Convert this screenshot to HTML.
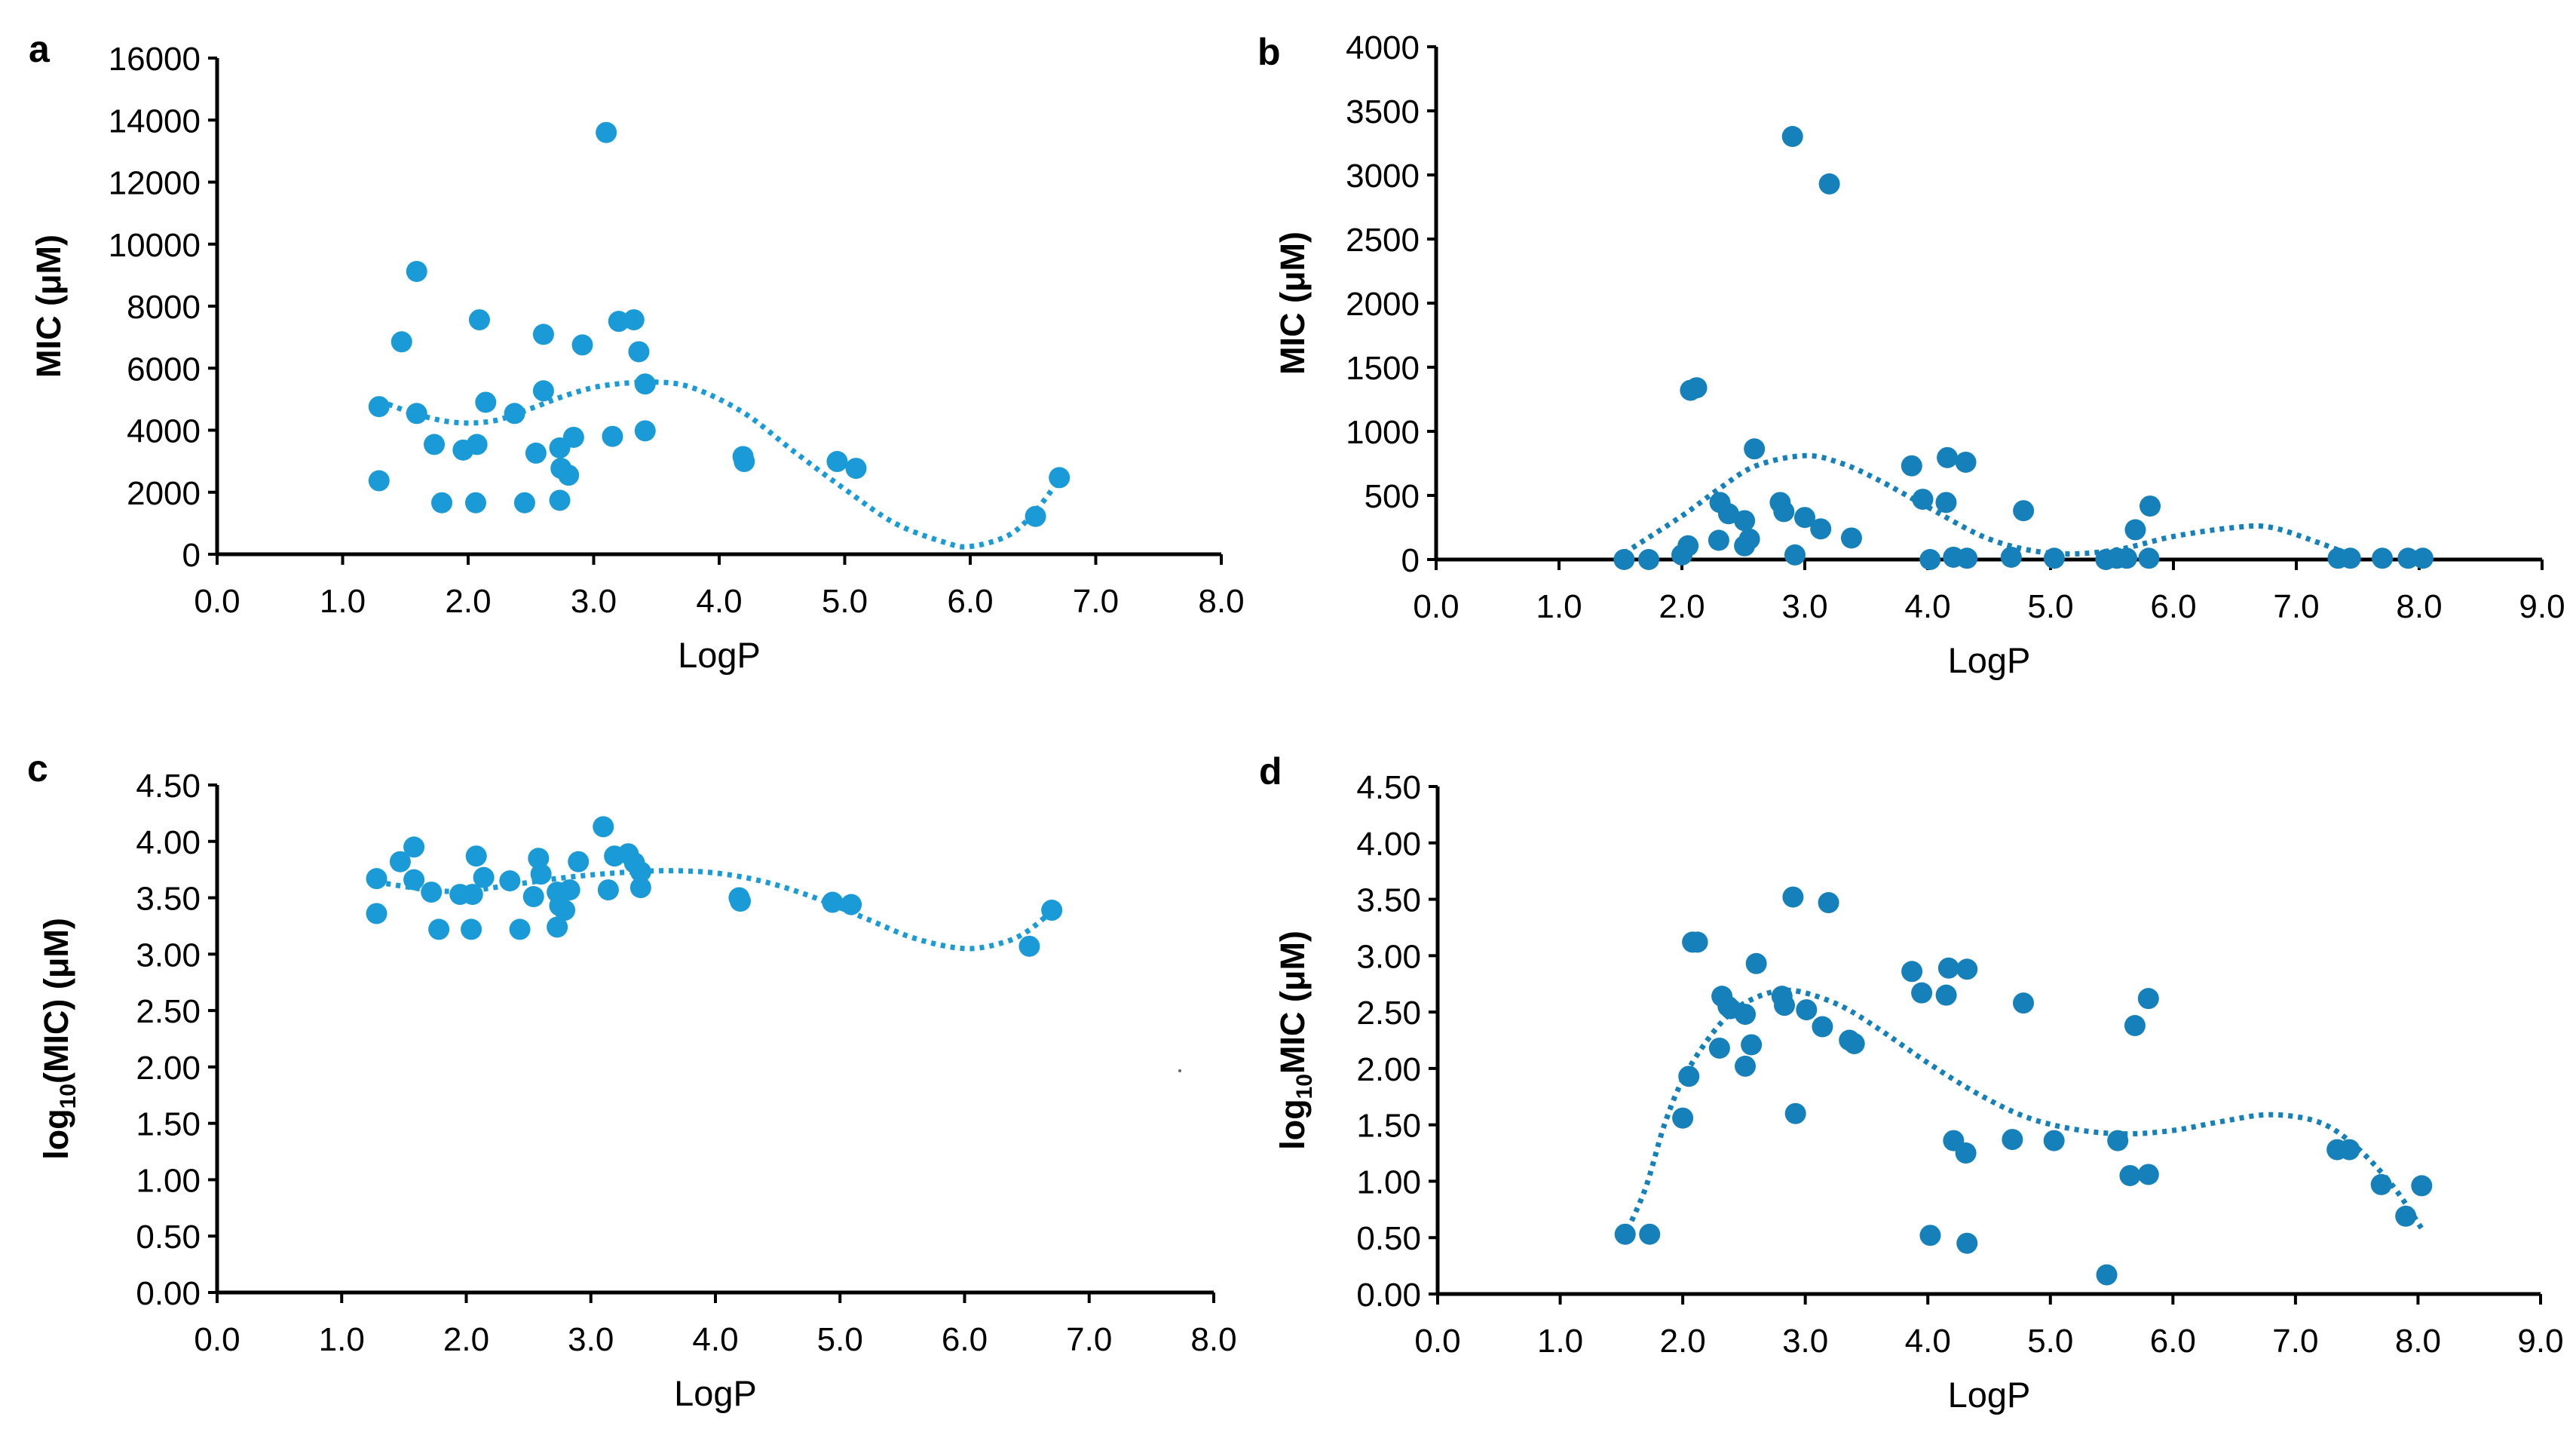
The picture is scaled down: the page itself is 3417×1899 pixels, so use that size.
<!DOCTYPE html>
<html><head><meta charset="utf-8">
<style>
html,body{margin:0;padding:0;background:#fff;}
svg{display:block;font-family:"Liberation Sans",Arial,sans-serif;}
</style></head>
<body>
<svg id="fig" width="3417" height="1899" viewBox="0 0 3417 1899" xmlns="http://www.w3.org/2000/svg"></svg>
<script>
// ---- Panel a data ----
const aX = [1.29,1.29,1.47,1.59,1.59,1.73,1.79,1.96,2.07,2.09,2.06,2.14,2.37,2.45,2.54,2.60,2.60,2.73,2.73,2.74,2.80,2.84,2.91,3.10,3.15,3.20,3.32,3.36,3.41,3.41,4.19,4.20,4.94,5.09,6.52,6.71];
const aY = [4760,2370,6850,9120,4540,3540,1660,3360,3540,7560,1660,4900,4540,1660,3260,7090,5270,3430,1740,2770,2550,3770,6750,13600,3800,7510,7560,6530,5490,3980,3150,2990,2990,2770,1220,2470];
const aTrendX = [1.29,1.6,1.9,2.2,2.5,2.8,3.1,3.5,3.8,4.2,4.6,5.0,5.4,5.8,6.0,6.3,6.5,6.71];
const aTrendY = [4950,4500,4250,4300,4700,5150,5450,5550,5350,4550,3300,2100,1000,380,250,600,1300,2400];
const aYTicks = [0,2000,4000,6000,8000,10000,12000,14000,16000];
const aXTicks = ["0.0","1.0","2.0","3.0","4.0","5.0","6.0","7.0","8.0"];
// ---- Panel b data ----
const bX = [1.53,1.73,2.0,2.05,2.07,2.12,2.30,2.31,2.38,2.51,2.51,2.55,2.59,2.80,2.83,2.90,2.92,3.00,3.13,3.20,3.38,3.87,3.96,4.02,4.15,4.16,4.21,4.31,4.32,4.68,4.78,5.03,5.45,5.54,5.62,5.69,5.81,5.80,7.34,7.44,7.70,7.91,8.03];
const bY = [0,0,36,107,1320,1340,150,445,357,303,107,160,863,445,374,3300,36,328,239,2930,168,731,470,0,445,795,18,759,10,18,381,10,0,10,10,232,417,10,10,10,10,10,10];
const bTrendX = [1.53,2.0,2.3,2.6,3.0,3.3,3.6,4.0,4.5,5.0,5.5,6.0,6.5,6.8,7.2,7.44];
const bTrendY = [50,340,550,730,810,750,620,410,160,50,70,180,250,250,125,35];
const bYTicks = [0,500,1000,1500,2000,2500,3000,3500,4000];
const bXTicks = ["0.0","1.0","2.0","3.0","4.0","5.0","6.0","7.0","8.0","9.0"];
// ---- Panel c data ----
const cX = [1.28,1.28,1.47,1.58,1.58,1.72,1.78,1.95,2.05,2.08,2.04,2.14,2.35,2.43,2.54,2.58,2.60,2.73,2.73,2.75,2.79,2.83,2.90,3.10,3.14,3.19,3.30,3.35,3.40,3.40,4.19,4.20,4.94,5.09,6.52,6.70];
const cY = [3.67,3.36,3.82,3.95,3.66,3.55,3.22,3.53,3.53,3.87,3.22,3.68,3.65,3.22,3.51,3.85,3.71,3.55,3.24,3.43,3.39,3.57,3.82,4.13,3.57,3.87,3.89,3.81,3.73,3.59,3.50,3.47,3.46,3.44,3.07,3.39];
const cTrendX = [1.28,1.7,2.0,2.4,2.8,3.2,3.6,4.0,4.4,4.8,5.2,5.6,6.0,6.3,6.5,6.7];
const cTrendY = [3.64,3.57,3.56,3.62,3.68,3.72,3.74,3.72,3.64,3.50,3.32,3.14,3.05,3.10,3.20,3.38];
const cYTicks = ["0.00","0.50","1.00","1.50","2.00","2.50","3.00","3.50","4.00","4.50"];
const cXTicks = ["0.0","1.0","2.0","3.0","4.0","5.0","6.0","7.0","8.0"];
// ---- Panel d data ----
const dX = [1.53,1.73,2.00,2.05,2.08,2.12,2.30,2.32,2.37,2.39,2.51,2.51,2.56,2.60,2.81,2.83,2.90,2.92,3.01,3.14,3.19,3.36,3.40,3.87,3.95,4.02,4.15,4.17,4.21,4.31,4.32,4.32,4.69,4.78,5.03,5.46,5.55,5.65,5.69,5.80,5.80,7.34,7.44,7.70,7.90,8.03];
const dY = [0.53,0.53,1.56,1.93,3.12,3.12,2.18,2.64,2.55,2.53,2.48,2.02,2.21,2.93,2.64,2.56,3.52,1.60,2.52,2.37,3.47,2.25,2.22,2.86,2.67,0.52,2.65,2.89,1.36,1.25,2.88,0.45,1.37,2.58,1.36,0.17,1.36,1.05,2.38,1.06,2.62,1.28,1.28,0.97,0.69,0.96];
const dTrendX = [1.55,1.7,1.85,2.0,2.2,2.4,2.6,2.8,3.0,3.3,3.6,4.0,4.4,4.8,5.2,5.6,6.0,6.4,6.8,7.2,7.5,7.8,8.03];
const dTrendY = [0.57,0.95,1.50,1.90,2.25,2.50,2.63,2.69,2.67,2.55,2.35,2.05,1.78,1.57,1.46,1.42,1.45,1.53,1.59,1.52,1.30,0.95,0.58];
const dYTicks = ["0.00","0.50","1.00","1.50","2.00","2.50","3.00","3.50","4.00","4.50"];
const dXTicks = ["0.0","1.0","2.0","3.0","4.0","5.0","6.0","7.0","8.0","9.0"];

const NS = "http://www.w3.org/2000/svg";
const svg = document.getElementById('fig');
function mk(tag, parent, attrs){ const e=document.createElementNS(NS,tag); for(const k in attrs) e.setAttribute(k,attrs[k]); parent.appendChild(e); return e; }

function panel(cfg){
  const g = mk('g', svg, {});
  
  
  const sx = v => cfg.x0 + (v - 0) / cfg.xmax * (cfg.x1 - cfg.x0);
  const sy = v => cfg.y0 - v / cfg.ymax * (cfg.y0 - cfg.y1);
  const lt = mk('text', g, {x:cfg.lx, y:cfg.ly, 'font-size':50, 'font-weight':'bold', fill:'#000'});
  lt.textContent = cfg.id;
  
  
  const ax = mk('g', g, {});
  
  
  mk('line', ax, {x1:cfg.x0, y1:cfg.y0, x2:cfg.x1, y2:cfg.y0, stroke:'#000', 'stroke-width':5});
  mk('line', ax, {x1:cfg.x0, y1:cfg.y0+2, x2:cfg.x0, y2:cfg.y1, stroke:'#000', 'stroke-width':5});
  cfg.yTicks.forEach(t => {
    const v = parseFloat(t), y = sy(v);
    mk('line', ax, {x1:cfg.x0-12, y1:y, x2:cfg.x0, y2:y, stroke:'#000', 'stroke-width':4});
    const tx = mk('text', ax, {x:cfg.x0-22, y:y+16, 'font-size':44, 'text-anchor':'end', fill:'#000'});
    tx.textContent = t;
    
    
  });
  cfg.xTicks.forEach(t => {
    const x = sx(parseFloat(t));
    mk('line', ax, {x1:x, y1:cfg.y0, x2:x, y2:cfg.y0+14, stroke:'#000', 'stroke-width':4});
    const tx = mk('text', ax, {x:x, y:cfg.y0+77, 'font-size':44, 'text-anchor':'middle', fill:'#000'});
    tx.textContent = t;
    
    
  });
  const xt = mk('text', g, {x:(cfg.x0+cfg.x1)/2, y:cfg.y0+150, 'font-size':47, 'text-anchor':'middle', fill:'#000'});
  xt.textContent = 'LogP';
  
  
  const yt = mk('text', g, {x:0, y:0, 'font-size':45, 'font-weight':'600', 'text-anchor':'middle', fill:'#000', transform:'translate('+cfg.ytx+','+((cfg.y0+cfg.y1)/2+cfg.yty)+') rotate(-90)'});
  yt.innerHTML = cfg.ytitle;
  
  
  const pts = cfg.tx.map((v,i)=>[sx(v), sy(cfg.ty[i])]);
  let d = 'M'+pts[0][0]+','+pts[0][1];
  for(let i=0;i<pts.length-1;i++){
    const p0=pts[Math.max(0,i-1)], p1=pts[i], p2=pts[i+1], p3=pts[Math.min(pts.length-1,i+2)];
    const c1x=p1[0]+(p2[0]-p0[0])/6, c1y=p1[1]+(p2[1]-p0[1])/6;
    const c2x=p2[0]-(p3[0]-p1[0])/6, c2y=p2[1]-(p3[1]-p1[1])/6;
    d += ' C'+c1x+','+c1y+' '+c2x+','+c2y+' '+p2[0]+','+p2[1];
  }
  const tl = mk('path', g, {d:d, fill:'none', stroke:cfg.color, 'stroke-width':7, 'stroke-dasharray':'6 7', 'stroke-linecap':'butt'});
  
  
  const pg = mk('g', g, {});
  
  
  cfg.px.forEach((v,i) => {
    const c = mk('circle', pg, {cx:sx(v), cy:sy(cfg.py[i]), r:14, fill:cfg.color});
    
    
  });
}

panel({id:'a', x0:288, x1:1620, xmax:8, y0:735, y1:77, ymax:16000, color:'#1a9ad6',
  px:aX, py:aY, tx:aTrendX, ty:aTrendY, yTicks:aYTicks.map(String), xTicks:aXTicks,
  lx:38, ly:82, ytx:80, yty:0, ytitle:'MIC (μM)'});
panel({id:'b', x0:1905, x1:3372, xmax:9, y0:742, y1:62, ymax:4000, color:'#1580b9',
  px:bX, py:bY, tx:bTrendX, ty:bTrendY, yTicks:bYTicks.map(String), xTicks:bXTicks,
  lx:1668, ly:86, ytx:1730, yty:0, ytitle:'MIC (μM)'});
panel({id:'c', x0:288, x1:1610, xmax:8, y0:1714, y1:1041, ymax:4.5, color:'#1a9ad6',
  px:cX, py:cY, tx:cTrendX, ty:cTrendY, yTicks:cYTicks, xTicks:cXTicks,
  lx:36, ly:1036, ytx:90, yty:0, ytitle:'log<tspan font-size="30" dy="10">10</tspan><tspan dy="-10">(MIC) (μM)</tspan>'});
panel({id:'d', x0:1907, x1:3370, xmax:9, y0:1716, y1:1043, ymax:4.5, color:'#1580b9',
  px:dX, py:dY, tx:dTrendX, ty:dTrendY, yTicks:dYTicks, xTicks:dXTicks,
  lx:1670, ly:1040, ytx:1730, yty:0, ytitle:'log<tspan font-size="30" dy="10">10</tspan><tspan dy="-10">MIC (μM)</tspan>'});
const sp = mk('circle', svg, {cx:1565, cy:1420, r:2, fill:'#666'});


</script>
</body></html>
